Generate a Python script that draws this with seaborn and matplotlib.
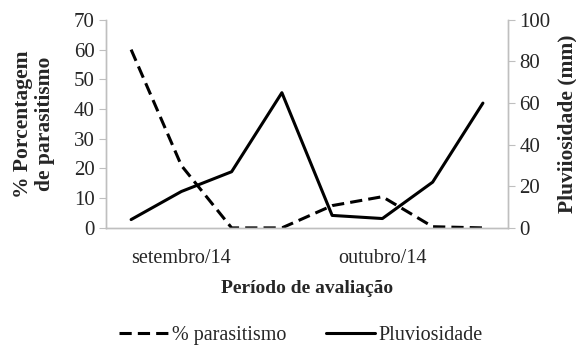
import matplotlib
matplotlib.use("Agg")
import matplotlib.pyplot as plt
import numpy as np
import pandas as pd
import seaborn as sns

# data
periodo = [0, 1, 2, 3, 4, 5, 6, 7]
tick_labels = ["setembro/14", "outubro/14"]
tick_pos = [1, 5]
parasitismo = [60, 21, 0, 0, 7.5, 10.5, 0.4, 0]
pluviosidade = [4, 17.5, 27, 65, 6, 4.5, 22, 60]

df = pd.DataFrame({"periodo": periodo, "parasitismo": parasitismo, "pluviosidade": pluviosidade})

sns.set_style("white")
serif = ['Liberation Serif', 'DejaVu Serif']
plt.rcParams['font.family'] = serif
plt.rcParams['font.size'] = 14

fig = plt.figure(figsize=(5.76, 3.49), dpi=100)
ax = fig.add_axes([0.184, 0.347, 0.698, 0.596])
ax2 = ax.twinx()

grey = "#bfbfbf"

sns.lineplot(data=df, x="periodo", y="parasitismo", ax=ax, color="black", linewidth=2.2,
             dashes=False, label="% parasitismo", legend=False)
ax.lines[0].set_dashes((4, 2))
sns.lineplot(data=df, x="periodo", y="pluviosidade", ax=ax2, color="black", linewidth=2.2,
             label="Pluviosidade", legend=False)

ax.set_xlim(-0.5, 7.5)
ax.set_ylim(0, 70)
ax.set_yticks(np.arange(0, 71, 10))
ax2.set_ylim(0, 100)
ax2.set_yticks(np.arange(0, 101, 20))

ax.set_xticks(tick_pos, tick_labels)
ax.set_xticks([3.5], minor=True)
ax.tick_params(axis="x", which="major", length=0, pad=15, labelsize=14.5)
ax.tick_params(axis="x", which="minor", length=5, color=grey, direction="out")
ax.tick_params(axis="y", length=5, color=grey, direction="out", labelsize=15, pad=3)
ax2.tick_params(axis="y", length=5, color=grey, direction="out", labelsize=15, pad=3)

for a in (ax, ax2):
    a.spines["top"].set_visible(False)
    for s in ("left", "right", "bottom"):
        a.spines[s].set_color(grey)
        a.spines[s].set_linewidth(1)
    a.grid(False)

ax.set_xlabel("Período de avaliação", fontweight="bold", fontsize=14, labelpad=9)
ax.set_ylabel("% Porcentagem\nde parasitismo", fontweight="bold", fontsize=15.5, labelpad=14,
              linespacing=1.1)
ax2.set_ylabel("Pluviiosidade (mm)", fontweight="bold", fontsize=15.5, labelpad=5)

h1, l1 = ax.get_legend_handles_labels()
h2, l2 = ax2.get_legend_handles_labels()
fig.legend(h1 + h2, l1 + l2, loc="center", bbox_to_anchor=(0.523, 0.04), ncol=2,
           frameon=False, prop={"family": serif, "size": 14.5},
           handlelength=2.4, handletextpad=0.2, columnspacing=2.0)

fig.savefig("out.png", dpi=100)
